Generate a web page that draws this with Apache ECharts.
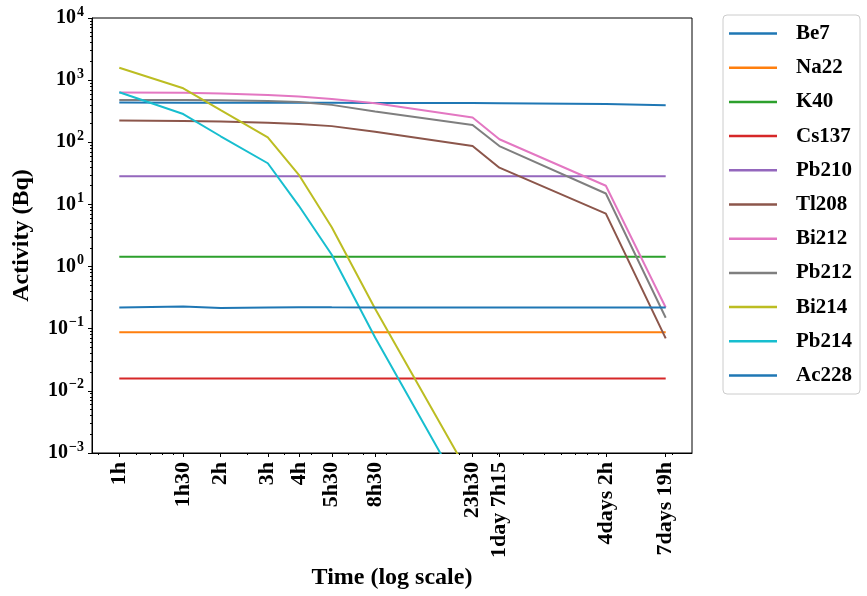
<!DOCTYPE html>
<html>
<head>
<meta charset="utf-8">
<script src="https://cdn.jsdelivr.net/npm/echarts@6/dist/echarts.min.js"></script>
<style>
html,body{margin:0;padding:0;background:#fff;}
#chart{width:867px;height:596px;}
</style>
</head>
<body>
<div id="chart"></div>
<script>
// elapsed time (hours, plotted on log axis) and the tick labels at those times
const tickLabels = ['1h','1h30','2h','3h','4h','5h30','8h30','23h30','1day 7h15','4days 2h','7days 19h'];
const elapsed = [0.5, 1, 1.5, 2.5, 3.5, 5, 8, 23, 30.75, 97.5, 186.5];
const xMinorTicks = [0.4,0.6,0.7,0.8,0.9,2,3,4,6,7,9,20,30,40,50,60,70,80,90,200];
const yMajorTicks = [0.001,0.01,0.1,1,10,100,1000,10000];
const yMinorTicks = [];
[0.001,0.01,0.1,1,10,100,1000].forEach(function(d){ for (let k=2;k<=9;k++) yMinorTicks.push(+(k*d).toPrecision(3)); });

const seriesNames = ['Be7','Na22','K40','Cs137','Pb210','Tl208','Bi212','Pb212','Bi214','Pb214','Ac228'];
const be7   = [435, 434, 434, 433, 432, 431, 430, 427, 425, 412, 395];
const na22  = [0.0875,0.0875,0.0875,0.0875,0.0875,0.0875,0.0875,0.0875,0.0875,0.0875,0.0875];
const k40   = [1.44,1.44,1.44,1.44,1.44,1.44,1.44,1.44,1.44,1.44,1.44];
const cs137 = [0.0158,0.0158,0.0158,0.0158,0.0158,0.0158,0.0158,0.0158,0.0158,0.0158,0.0158];
const pb210 = [28.5,28.5,28.5,28.5,28.5,28.5,28.5,28.5,28.5,28.5,28.5];
const tl208 = [225, 221, 217, 206, 197, 182, 148, 87, 39, 7.1, 0.07];
const bi212 = [630, 625, 612, 575, 546, 497, 425, 250, 112, 20, 0.22];
const pb212 = [480, 478, 474, 462, 446, 400, 313, 190, 87, 15, 0.15];
const bi214 = [1580, 740, 330, 120, 30, 4.3, 0.21, 3.6e-4, 2e-5, 1e-6, 1e-7];
const pb214 = [640, 285, 125, 46, 9.5, 1.55, 0.072, 1.2e-4, 1e-5, 1e-6, 1e-7];
const ac228 = [0.22,0.228,0.215,0.22,0.222,0.221,0.22,0.22,0.22,0.22,0.22];
const seriesValues = [be7, na22, k40, cs137, pb210, tl208, bi212, pb212, bi214, pb214, ac228];
const colors = ['#1f77b4','#ff7f0e','#2ca02c','#d62728','#9467bd','#8c564b','#e377c2','#7f7f7f','#bcbd22','#17becf','#1f77b4'];

const FONT = '"Liberation Serif","Times New Roman",serif';
const chart = echarts.init(document.getElementById('chart'), null, {renderer:'canvas'});

function xLabel(v){
  for (let i=0;i<elapsed.length;i++){ if (Math.abs(elapsed[i]-v) < 1e-6*Math.max(1,v)) return tickLabels[i]; }
  return '';
}
function yLabel(v){
  const e = Math.round(Math.log10(v));
  const s = e < 0 ? '\u2212' + (-e) : '' + e;
  return '{b|10}{s|' + s + '}';
}

const xCommon = {type:'log', logBase:10, min:0.372, max:248, splitLine:{show:false}, minorTick:{show:false}, minorSplitLine:{show:false}};
const yCommon = {type:'log', logBase:10, min:0.001, max:10000, splitLine:{show:false}, minorTick:{show:false}, minorSplitLine:{show:false}};

const option = {
  animation:false,
  backgroundColor:'#fff',
  color: colors,
  grid:{left:92, top:18, width:600, height:435, show:true, borderColor:'#000', borderWidth:1, backgroundColor:'transparent'},
  legend:{
    orient:'vertical', left:723, top:15,
    padding:[8,8,8,6],
    itemWidth:48, itemHeight:2.5, itemGap:13.2,
    icon:'rect',
    backgroundColor:'#fff', borderColor:'#cccccc', borderWidth:1, borderRadius:4,
    textStyle:{fontFamily:FONT, fontWeight:'bold', fontSize:21, color:'#000', lineHeight:21, padding:[0,0,0,14]},
    data: seriesNames
  },
  xAxis:[
    Object.assign({}, xCommon, {
      position:'bottom',
      name:'Time (log scale)', nameLocation:'middle', nameGap:113,
      nameTextStyle:{fontFamily:FONT, fontWeight:'bold', fontSize:24, color:'#000'},
      axisLine:{show:true, lineStyle:{color:'#000', width:1}},
      axisTick:{show:true, length:4, inside:false, lineStyle:{color:'#000', width:1}, customValues: elapsed},
      axisLabel:{show:true, rotate:90, margin:9, fontFamily:FONT, fontWeight:'bold', fontSize:22, color:'#000',
                 customValues: elapsed, formatter: xLabel, hideOverlap:false, showMinLabel:true, showMaxLabel:true}
    }),
    Object.assign({}, xCommon, {
      position:'bottom',
      axisLine:{show:false},
      axisTick:{show:true, length:2, inside:false, lineStyle:{color:'#000', width:1}, customValues: xMinorTicks},
      axisLabel:{show:false}
    })
  ],
  yAxis:[
    Object.assign({}, yCommon, {
      position:'left',
      name:'Activity (Bq)', nameLocation:'middle', nameGap:58,
      nameTextStyle:{fontFamily:FONT, fontWeight:'bold', fontSize:24, color:'#000'},
      axisLine:{show:true, lineStyle:{color:'#000', width:1}},
      axisTick:{show:true, length:4, inside:false, lineStyle:{color:'#000', width:1}, customValues: yMajorTicks},
      axisLabel:{show:true, margin:8, color:'#000', customValues: yMajorTicks, formatter: yLabel,
        showMinLabel:true, showMaxLabel:true,
        rich:{
          b:{fontFamily:FONT, fontWeight:'bold', fontSize:20, color:'#000'},
          s:{fontFamily:FONT, fontWeight:'bold', fontSize:14, color:'#000', padding:[0,0,12,1]}
        }}
    }),
    Object.assign({}, yCommon, {
      position:'left',
      axisLine:{show:false},
      axisTick:{show:true, length:2, inside:false, lineStyle:{color:'#000', width:1}, customValues: yMinorTicks},
      axisLabel:{show:false}
    })
  ],
  series: seriesNames.map(function(name, i){
    return {
      name:name, type:'line', xAxisIndex:0, yAxisIndex:0,
      data: elapsed.map(function(t, j){ return [t, seriesValues[i][j]]; }),
      showSymbol:false, symbol:'none', clip:true, smooth:false,
      lineStyle:{width:2, color:colors[i]},
      itemStyle:{color:colors[i]},
      emphasis:{disabled:true}
    };
  })
};
chart.setOption(option);
</script>
</body>
</html>
